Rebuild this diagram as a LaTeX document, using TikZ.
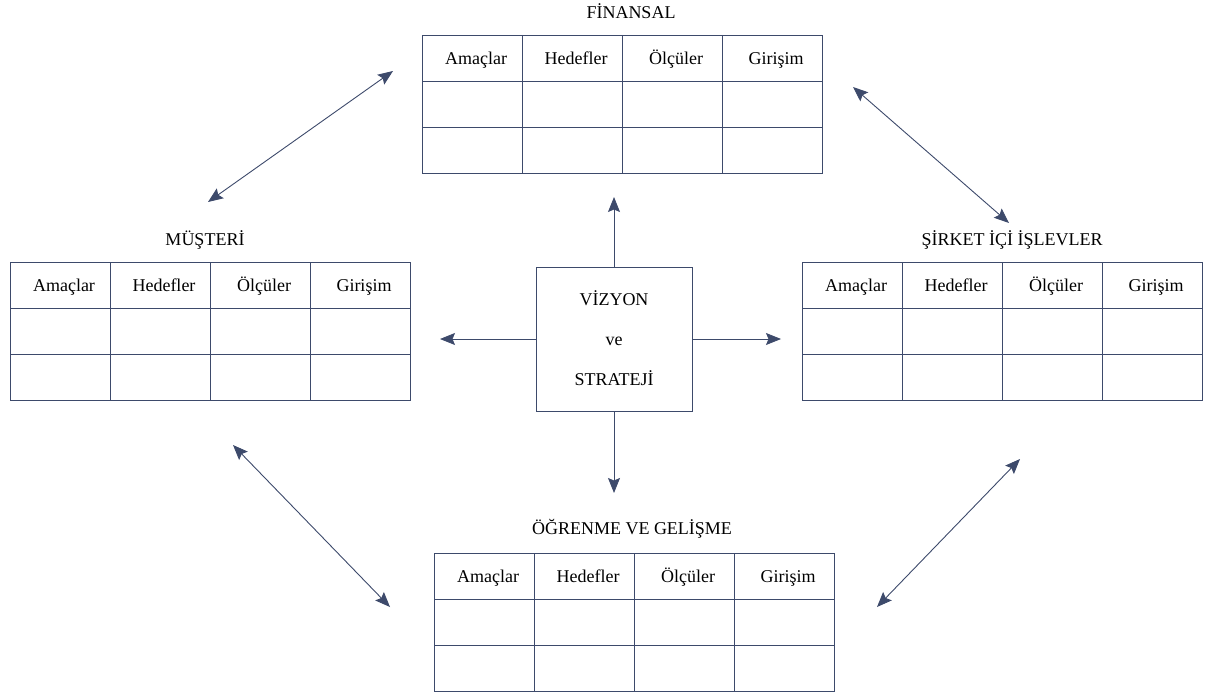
\documentclass[tikz,border=0pt]{standalone}
\usepackage{fontspec}
\setmainfont{Liberation Serif}
\usetikzlibrary{arrows.meta}
\definecolor{ink}{HTML}{3D4A6B}
\tikzset{
  frame/.style={draw=ink, line width=0.9pt, inner sep=0pt},
  hdr/.style={font=\fontsize{18}{20}\selectfont, text=black, text height=12.5pt, text depth=4pt, inner sep=0pt},
  ttl/.style={font=\fontsize{18}{20}\selectfont, text=black, text height=12.5pt, text depth=4pt, inner sep=0pt},
  link/.style={draw=ink, line width=0.9pt, -{Stealth[length=15pt,width=12pt,inset=2.5pt]}},
  duo/.style={draw=ink, line width=0.9pt, {Stealth[length=15pt,width=12pt,inset=2.5pt]}-{Stealth[length=15pt,width=12pt,inset=2.5pt]}}
}
% a 4x3 table whose top-left corner is (#2,#3), named #1
\newcommand{\plantable}[3]{%
  \node[frame, minimum width=400pt, minimum height=138pt, anchor=north west] (#1) at (#2,#3) {};
  \foreach \k in {1,2,3} \draw[ink, line width=0.9pt] ([xshift=\k*100pt]#1.north west) -- ([xshift=\k*100pt]#1.south west);
  \foreach \k in {1,2} \draw[ink, line width=0.9pt] ([yshift=-\k*46pt]#1.north west) -- ([yshift=-\k*46pt]#1.north east);
  \node[hdr] (#1-a) at ([xshift=54pt,yshift=-25pt]#1.north west) {Amaçlar};
  \node[hdr] (#1-h) at ([xshift=154pt,yshift=-25pt]#1.north west) {Hedefler};
  \node[hdr] (#1-o) at ([xshift=254pt,yshift=-25pt]#1.north west) {Ölçüler};
  \node[hdr] (#1-g) at ([xshift=354pt,yshift=-25pt]#1.north west) {Girişim};
}
\begin{document}
\begin{tikzpicture}[x=1pt,y=-1pt]
\useasboundingbox (0,0) rectangle (1214,695);
\plantable{fin}{422}{35}
\plantable{mus}{10}{262}
\plantable{sir}{802}{262}
\plantable{ogr}{434}{553}

\node[ttl] (finT) at (631,14) {FİNANSAL};
\node[ttl] (musT) at (205,241) {MÜŞTERİ};
\node[ttl] (sirT) at (1012,241) {ŞİRKET İÇİ İŞLEVLER};
\node[ttl] (ogrT) at (632,530) {ÖĞRENME VE GELİŞME};

% central vision and strategy box
\node[frame, minimum width=156pt, minimum height=144pt] (viz) at (614,339) {};
\node[ttl] (vizA) at (614,301) {VİZYON};
\node[ttl] (vizB) at (614,341) {ve};
\node[ttl] (vizC) at (614,381) {STRATEJİ};

% free ends of the arrows
\coordinate (up) at (614,197);
\coordinate (lf) at (440,339);
\coordinate (rt) at (781,339);
\coordinate (dn) at (614,493);
\draw[link] (viz.north) -- (up);
\draw[link] (viz.west) -- (lf);
\draw[link] (viz.east) -- (rt);
\draw[link] (viz.south) -- (dn);

\coordinate (p1) at (393,71);
\coordinate (p2) at (208,202);
\coordinate (p3) at (853,87);
\coordinate (p4) at (1009,223);
\coordinate (p5) at (233,445);
\coordinate (p6) at (390,607);
\coordinate (p7) at (1020,459);
\coordinate (p8) at (877,607);
\draw[duo] (p1) -- (p2);
\draw[duo] (p3) -- (p4);
\draw[duo] (p5) -- (p6);
\draw[duo] (p7) -- (p8);
\end{tikzpicture}
\end{document}
